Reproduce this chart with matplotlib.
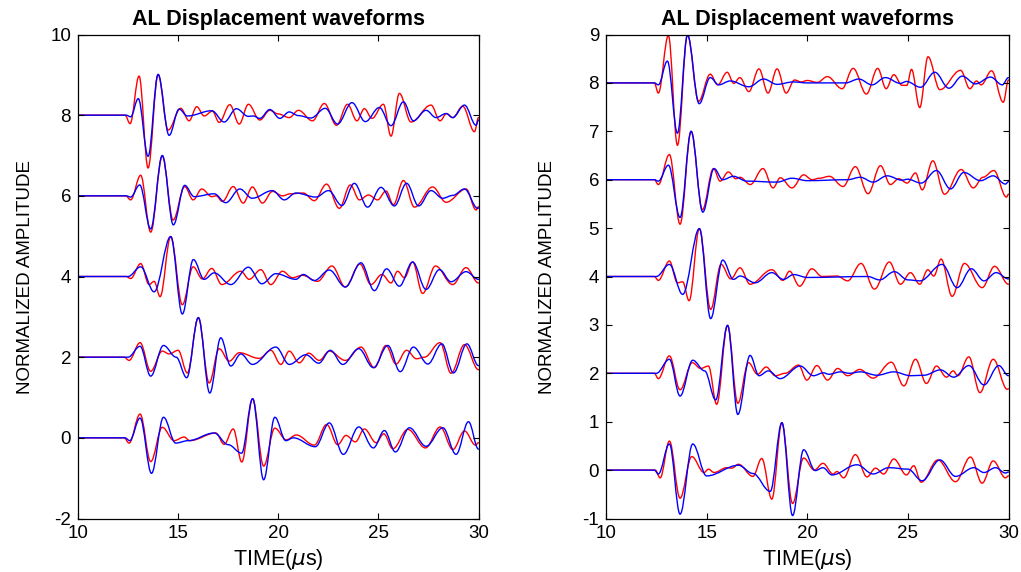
import matplotlib
matplotlib.use("Agg")
import matplotlib.pyplot as plt
from matplotlib import font_manager
from matplotlib.path import Path
from matplotlib.patches import PathPatch

plt.rcParams['font.family'] = ['Liberation Sans', 'DejaVu Sans']
plt.rcParams['axes.unicode_minus'] = False

# ---------------------------------------------------------------------------
# Waveform extrema: (time in microseconds, normalized amplitude about the
# trace baseline).  Each trace is drawn as a smooth curve through its peaks
# and troughs.
# ---------------------------------------------------------------------------
TRACE_OFFSETS = [8, 6, 4, 2, 0]

# ----- left panel -----
L8_RED = [(10, 0), (12.35, 0), (12.6, -0.21), (13.05, 0.97), (13.5, -1.31), (14.0, 1.01),
          (14.5, -0.37), (15.13, 0.17), (15.55, -0.14), (15.93, 0.21), (16.3, -0.02),
          (16.71, 0.1), (17.05, -0.18), (17.58, 0.26), (18.05, -0.22), (18.51, 0.27),
          (19.08, -0.12), (19.58, 0.12), (20.0, 0.03), (20.55, -0.06), (21.01, 0.12),
          (21.71, -0.14), (22.3, 0.29), (22.91, -0.25), (23.46, 0.27), (23.93, -0.14),
          (24.3, 0.16), (24.68, -0.08), (25.25, 0.27), (25.63, -0.52), (26.05, 0.54),
          (26.63, -0.17), (27.63, 0.25), (28.08, -0.14), (28.41, 0.04), (28.71, -0.06),
          (29.21, 0.22), (29.8, -0.41), (30.0, -0.06)]
L8_BLUE = [(10, 0), (12.4, 0), (12.63, -0.04), (13.01, 0.41), (13.5, -1.02), (14.0, 1.01),
           (14.55, -0.5), (15.05, 0.15), (15.46, -0.02), (16.68, 0.11), (17.3, -0.17),
           (17.91, 0.16), (18.5, -0.03), (18.75, -0.02), (19.08, -0.08), (19.58, 0.14),
           (20.08, -0.08), (20.55, 0.08), (21.0, -0.01), (21.63, -0.07), (22.35, 0.17),
           (22.96, -0.22), (23.68, 0.31), (24.35, -0.16), (25.05, 0.19), (25.63, -0.26),
           (26.25, 0.33), (26.75, -0.14), (27.38, 0.12), (27.88, -0.06), (28.38, 0.04),
           (28.71, -0.06), (29.3, 0.25), (29.88, -0.25), (30.0, -0.12)]

L6_RED = [(10, 0), (12.38, 0), (12.63, -0.1), (13.13, 0.51), (13.63, -0.9), (14.21, 0.99),
          (14.75, -0.6), (15.33, 0.23), (15.75, -0.1), (16.18, 0.17), (16.68, -0.02),
          (16.9, 0.0), (17.21, -0.14), (17.75, 0.23), (18.25, -0.18), (18.71, 0.22),
          (19.21, -0.18), (19.71, 0.11), (20.21, 0.0), (20.6, 0.05), (21.25, 0.07),
          (21.8, -0.12), (22.41, 0.29), (23.05, -0.31), (23.6, 0.27), (24.05, -0.1),
          (24.51, 0.02), (24.96, -0.1), (25.38, 0.12), (25.75, -0.22), (26.25, 0.38),
          (26.8, -0.28), (27.71, 0.22), (28.38, -0.16), (29.38, 0.17), (29.88, -0.35),
          (30.0, -0.27)]
L6_BLUE = [(10, 0), (12.4, 0), (12.63, -0.03), (13.08, 0.27), (13.63, -0.82), (14.21, 1.0),
           (14.76, -0.72), (15.33, 0.26), (15.8, -0.02), (16.8, 0.05), (17.38, -0.17),
           (18.08, 0.17), (18.7, -0.06), (19.71, 0.13), (20.3, -0.1), (20.88, 0.07),
           (21.88, -0.03), (22.51, 0.13), (23.18, -0.24), (23.8, 0.31), (24.46, -0.28),
           (25.13, 0.21), (25.8, -0.25), (26.41, 0.31), (27.01, -0.25), (27.63, 0.13),
           (28.21, -0.06), (28.71, 0.01), (29.3, 0.17), (29.96, -0.31), (30.0, -0.3)]

L4_RED = [(10, 0), (12.4, 0), (12.63, -0.05), (13.13, 0.32), (13.55, -0.2), (13.8, -0.12),
          (14.1, -0.5), (14.63, 0.99), (15.21, -0.7), (15.75, 0.24), (16.21, -0.06),
          (16.68, 0.2), (17.18, -0.2), (18.13, 0.13), (18.55, -0.07), (19.13, 0.17),
          (19.63, -0.2), (20.21, 0.13), (20.71, -0.03), (21.21, 0.03), (21.96, -0.12),
          (22.68, 0.26), (23.35, -0.26), (24.08, 0.31), (24.63, -0.2), (25.18, 0.05),
          (25.63, -0.16), (25.96, 0.13), (26.3, -0.03), (26.71, 0.36), (27.21, -0.42),
          (27.85, 0.26), (28.71, -0.2), (29.38, 0.22), (30.0, -0.16)]
L4_BLUE = [(10, 0), (12.5, 0), (13.13, 0.24), (13.8, -0.38), (14.63, 0.99), (15.21, -0.93),
           (15.76, 0.42), (16.3, -0.07), (16.8, 0.09), (17.63, -0.2), (18.51, 0.23),
           (19.18, -0.18), (19.88, 0.07), (20.88, -0.07), (21.25, 0.05), (21.8, -0.1),
           (22.55, 0.16), (23.35, -0.26), (24.13, 0.34), (24.8, -0.35), (25.41, 0.19),
           (26.05, -0.24), (26.71, 0.36), (27.38, -0.32), (28.05, 0.17), (28.63, -0.13),
           (29.38, 0.12), (30.0, -0.07)]

L2_RED = [(10, 0), (12.3, 0), (12.55, -0.08), (13.1, 0.36), (13.63, -0.35), (14.21, 0.15),
          (14.55, 0.08), (15.0, 0.17), (15.46, -0.39), (16.01, 0.98), (16.55, -0.64),
          (17.05, 0.21), (17.55, -0.1), (18.05, 0.11), (19.05, -0.03), (19.63, 0.17),
          (20.13, -0.18), (20.55, 0.15), (21.05, -0.14), (21.52, 0.1), (22.05, -0.08),
          (22.55, 0.15), (23.35, -0.08), (24.13, 0.25), (24.8, -0.26), (25.38, 0.29),
          (25.88, -0.17), (26.41, 0.17), (26.9, -0.04), (27.3, 0.0), (28.08, 0.36),
          (28.63, -0.4), (29.3, 0.31), (30.0, -0.31)]
L2_BLUE = [(10, 0), (12.5, 0), (13.1, 0.27), (13.63, -0.47), (14.27, 0.29), (14.9, 0.0),
           (15.43, -0.51), (16.01, 0.98), (16.58, -0.89), (17.13, 0.48), (17.63, -0.22),
           (18.13, 0.08), (18.71, -0.18), (19.88, 0.25), (20.55, -0.18), (21.38, 0.06),
           (22.02, -0.15), (22.6, 0.17), (23.22, -0.18), (24.02, 0.21), (24.75, -0.26),
           (25.47, 0.29), (26.09, -0.36), (26.75, 0.25), (27.47, -0.17), (28.17, 0.33),
           (28.75, -0.39), (29.42, 0.33), (30.0, -0.21)]

L0_RED = [(10, 0), (12.3, 0), (12.55, -0.13), (13.1, 0.59), (13.63, -0.59), (14.21, 0.26),
          (14.8, -0.07), (15.3, 0.02), (15.58, -0.07), (16.88, 0.12), (17.3, -0.16),
          (17.75, 0.22), (18.18, -0.6), (18.72, 0.97), (19.27, -0.7), (19.83, 0.24),
          (20.4, -0.05), (20.9, 0.07), (21.8, -0.18), (22.42, 0.33), (22.97, -0.17),
          (23.38, 0.06), (23.85, -0.1), (24.3, 0.22), (24.89, -0.12), (25.27, 0.1),
          (25.72, -0.27), (26.47, 0.21), (27.35, -0.25), (28.09, 0.27), (28.72, -0.29),
          (29.3, 0.17), (29.85, -0.18), (30.0, -0.12)]
L0_BLUE = [(10, 0), (12.35, 0), (12.58, -0.07), (13.1, 0.49), (13.67, -0.88), (14.27, 0.51),
           (14.88, -0.13), (15.5, -0.07), (16.8, 0.12), (17.5, -0.17), (18.17, -0.38),
           (18.72, 0.97), (19.27, -1.04), (19.83, 0.51), (20.38, -0.07), (20.75, 0.0),
           (21.85, -0.22), (22.55, 0.37), (23.25, -0.41), (24.02, 0.27), (24.75, -0.25),
           (25.3, 0.18), (25.85, -0.35), (26.55, 0.25), (27.38, -0.21), (28.22, 0.25),
           (28.88, -0.41), (29.5, 0.4), (30.0, -0.28)]

# ----- right panel -----
R8_RED = [(10, 0), (12.4, 0), (12.6, -0.21), (13.1, 0.98), (13.55, -1.29), (14.05, 0.99),
          (14.6, -0.38), (15.18, 0.18), (15.55, -0.04), (16.02, 0.22), (16.35, -0.01),
          (16.65, 0.11), (17.1, -0.18), (17.6, 0.29), (18.05, -0.21), (18.5, 0.29),
          (18.95, -0.21), (19.37, 0.06), (19.7, 0.02), (20.0, 0.05), (20.5, 0.01),
          (21.0, 0.13), (21.73, -0.12), (22.28, 0.3), (22.94, -0.23), (23.5, 0.3),
          (23.92, -0.12), (24.3, 0.17), (24.71, -0.05), (24.95, -0.05), (25.18, 0.28),
          (25.59, -0.51), (26.0, 0.54), (26.59, -0.14), (27.62, 0.26), (28.08, -0.12),
          (28.41, 0.04), (28.64, -0.04), (29.16, 0.25), (29.74, -0.4), (30.0, 0.06)]
R8_BLUE = [(10, 0), (12.4, 0), (12.6, -0.04), (13.05, 0.45), (13.55, -1.04), (14.05, 0.99),
           (14.63, -0.43), (15.18, 0.11), (15.6, -0.04), (16.17, 0.04), (17.1, -0.08),
           (17.83, 0.08), (18.5, -0.03), (19.3, 0.02), (20.0, 0.0), (21.9, 0.0),
           (22.56, 0.08), (23.22, -0.04), (23.88, 0.11), (24.63, -0.01), (24.93, 0.03),
           (25.63, -0.09), (26.34, 0.22), (27.04, -0.11), (27.7, 0.14), (28.36, -0.02),
           (29.11, 0.12), (29.69, -0.04), (30.0, 0.11)]

R6_RED = [(10, 0), (12.4, 0), (12.6, -0.1), (13.15, 0.52), (13.68, -0.92), (14.23, 1.0),
          (14.79, -0.62), (15.34, 0.23), (15.67, -0.03), (16.08, 0.16), (16.45, 0.02),
          (16.66, 0.05), (17.17, -0.1), (17.8, 0.23), (18.3, -0.17), (18.66, 0.04),
          (19.24, -0.17), (19.82, 0.1), (20.24, 0.0), (20.6, 0.03), (21.1, 0.07),
          (21.78, -0.14), (22.39, 0.27), (23.02, -0.29), (23.64, 0.29), (24.13, -0.1),
          (24.55, 0.02), (24.96, -0.07), (25.38, 0.14), (25.71, -0.21), (26.24, 0.39),
          (26.82, -0.3), (27.65, 0.21), (28.25, -0.17), (28.73, 0.05), (29.27, 0.19),
          (29.9, -0.36), (30.0, -0.3)]
R6_BLUE = [(10, 0), (12.4, 0), (12.6, -0.03), (13.1, 0.3), (13.68, -0.78), (14.23, 1.0),
           (14.81, -0.67), (15.37, 0.23), (15.8, 0.0), (16.33, 0.07), (17.0, -0.03),
           (18.5, -0.05), (19.24, 0.03), (20.0, -0.02), (22.0, 0.0), (22.64, 0.05),
           (23.27, -0.05), (23.97, 0.08), (24.71, -0.01), (24.99, 0.01), (25.66, -0.07),
           (26.42, 0.19), (27.12, -0.19), (27.78, 0.15), (28.61, -0.02), (29.24, 0.08),
           (29.85, -0.09), (30.0, -0.04)]

R4_RED = [(10, 0), (12.4, 0), (12.6, -0.08), (13.15, 0.32), (13.55, -0.13), (13.81, -0.11),
          (14.13, -0.5), (14.64, 0.99), (15.2, -0.68), (15.72, 0.25), (16.2, -0.05),
          (16.66, 0.18), (17.16, -0.16), (18.24, 0.14), (18.79, -0.08), (19.12, 0.11),
          (19.62, -0.2), (20.23, 0.16), (20.73, 0.0), (21.48, 0.01), (22.01, -0.09),
          (22.67, 0.27), (23.34, -0.26), (24.08, 0.3), (24.63, -0.16), (25.13, 0.08),
          (25.59, -0.16), (25.99, 0.14), (26.29, 0.01), (26.65, 0.36), (27.2, -0.41),
          (27.81, 0.27), (28.69, -0.23), (29.31, 0.21), (30.0, -0.16)]
R4_BLUE = [(10, 0), (12.5, 0), (13.15, 0.25), (13.81, -0.37), (14.64, 0.99), (15.2, -0.87),
           (15.8, 0.34), (16.33, -0.06), (16.66, 0.01), (17.41, -0.13), (18.24, 0.08),
           (18.82, -0.06), (19.32, 0.04), (20.0, -0.02), (23.0, 0.0), (23.6, -0.07),
           (24.33, 0.1), (25.0, -0.07), (25.6, -0.09), (26.7, 0.25), (27.45, -0.23),
           (28.15, 0.16), (28.78, -0.09), (29.39, 0.08), (30.0, -0.05)]

R2_RED = [(10, 0), (12.4, 0), (12.6, -0.11), (13.15, 0.36), (13.68, -0.34), (14.29, 0.22),
          (14.7, 0.1), (15.09, 0.15), (15.5, -0.64), (16.04, 0.99), (16.55, -0.62),
          (17.08, 0.22), (17.53, -0.02), (17.96, 0.13), (18.41, -0.05), (18.9, 0.0),
          (19.57, 0.17), (19.98, -0.14), (20.48, 0.16), (21.01, -0.14), (21.51, 0.1),
          (22.01, -0.05), (22.61, 0.08), (23.27, -0.1), (24.18, 0.23), (24.8, -0.26),
          (25.38, 0.29), (25.92, -0.21), (26.42, 0.15), (26.92, -0.08), (27.25, 0.05),
          (27.48, -0.05), (28.03, 0.34), (28.58, -0.4), (29.24, 0.29), (29.94, -0.33),
          (30.0, -0.32)]
R2_BLUE = [(10, 0), (12.5, 0), (13.15, 0.29), (13.68, -0.47), (14.31, 0.27), (14.9, 0.05),
           (15.45, -0.55), (16.04, 0.99), (16.55, -0.85), (17.16, 0.37), (17.6, -0.05),
           (18.07, 0.05), (18.65, -0.11), (19.65, 0.15), (20.31, -0.05), (20.8, 0.01),
           (21.07, -0.02), (21.65, 0.03), (22.1, 0.0), (22.64, 0.03), (23.47, -0.04),
           (24.3, 0.03), (25.13, -0.05), (25.8, -0.04), (26.62, 0.07), (27.28, -0.08),
           (28.03, 0.16), (28.78, -0.24), (29.52, 0.16), (30.0, -0.05)]

R0_RED = [(10, 0), (12.45, 0), (12.69, -0.16), (13.15, 0.6), (13.68, -0.58), (14.26, 0.28),
          (14.87, -0.05), (15.09, 0.02), (15.37, -0.05), (16.0, 0.05), (16.25, 0.04),
          (16.58, 0.12), (17.3, -0.13), (17.74, 0.24), (18.24, -0.6), (18.74, 0.98),
          (19.27, -0.69), (19.82, 0.25), (20.35, 0.0), (20.78, 0.14), (21.28, -0.08),
          (21.48, -0.03), (21.81, -0.16), (22.39, 0.32), (22.97, -0.14), (23.39, 0.04),
          (23.8, -0.08), (24.3, 0.23), (24.93, -0.1), (25.29, 0.09), (25.66, -0.25),
          (26.49, 0.21), (27.37, -0.24), (28.11, 0.27), (28.69, -0.27), (29.24, 0.19),
          (29.85, -0.16), (30.0, -0.12)]
R0_BLUE = [(10, 0), (12.4, 0), (12.6, -0.08), (13.15, 0.54), (13.68, -0.91), (14.31, 0.54),
           (15.0, -0.12), (16.58, 0.1), (17.3, -0.07), (18.16, -0.44), (18.74, 0.98),
           (19.27, -0.94), (19.82, 0.42), (20.4, -0.01), (20.78, 0.05), (21.23, -0.1),
           (22.47, 0.11), (23.27, -0.08), (24.05, 0.05), (25.0, 0.02), (25.71, -0.22),
           (26.59, 0.21), (27.37, -0.13), (28.28, 0.05), (28.78, -0.05), (29.36, 0.05),
           (29.85, -0.06), (30.0, -0.04)]

LEFT_RED = [L8_RED, L6_RED, L4_RED, L2_RED, L0_RED]
LEFT_BLUE = [L8_BLUE, L6_BLUE, L4_BLUE, L2_BLUE, L0_BLUE]
RIGHT_RED = [R8_RED, R6_RED, R4_RED, R2_RED, R0_RED]
RIGHT_BLUE = [R8_BLUE, R6_BLUE, R4_BLUE, R2_BLUE, R0_BLUE]

X_TICKS = [10, 15, 20, 25, 30]
LEFT_Y_TICKS = [-2, 0, 2, 4, 6, 8, 10]
RIGHT_Y_TICKS = [-1, 0, 1, 2, 3, 4, 5, 6, 7, 8, 9]

TITLE = "AL Displacement waveforms"
X_LABEL = r"TIME($\mu$s)"
Y_LABEL = "NORMALIZED AMPLITUDE"

RED = "#ff0000"
BLUE = "#0000ff"

# condensed face for the vertical axis label when one is installed
_installed = {f.name for f in font_manager.fontManager.ttflist}
if "Liberation Sans Narrow" in _installed:
    YLABEL_FONT = dict(family=["Liberation Sans Narrow", "DejaVu Sans"], size=16)
else:
    YLABEL_FONT = dict(family=["Liberation Sans", "DejaVu Sans"], size=13.5)

# smooth half-cycle between successive extrema (horizontal tangents)
K = 1.0 - 2.0 / 3.141592653589793


def waveform_patch(points, offset, color):
    verts = [(points[0][0], points[0][1] + offset)]
    codes = [Path.MOVETO]
    for (t0, a0), (t1, a1) in zip(points[:-1], points[1:]):
        dt = t1 - t0
        verts += [(t0 + K * dt, a0 + offset),
                  (t1 - K * dt, a1 + offset),
                  (t1, a1 + offset)]
        codes += [Path.CURVE4] * 3
    return PathPatch(Path(verts, codes), fill=False, edgecolor=color,
                     linewidth=1.0, joinstyle="round", capstyle="round")


def style_axes(ax, yticks, ylim, ylabelpad):
    ax.set_xlim(10, 30)
    ax.set_ylim(*ylim)
    ax.set_xticks(X_TICKS)
    ax.set_yticks(yticks)
    ax.tick_params(direction="in", top=True, right=True, length=4,
                   width=0.8, labelsize=13.5, pad=5)
    for s in ax.spines.values():
        s.set_linewidth(0.9)
    ax.set_title(TITLE, fontsize=15.5, fontweight="bold", pad=7)
    ax.set_xlabel(X_LABEL, fontsize=15.5, labelpad=3)
    ax.set_ylabel(Y_LABEL, labelpad=ylabelpad, **YLABEL_FONT)


fig = plt.figure(figsize=(10.21, 5.72), dpi=100)
ax_left = fig.add_axes([78 / 1021, 53.5 / 572, 400.5 / 1021, 484 / 572])
ax_right = fig.add_axes([606 / 1021, 53.5 / 572, 402.5 / 1021, 484 / 572])

for ax, reds, blues in ((ax_left, LEFT_RED, LEFT_BLUE), (ax_right, RIGHT_RED, RIGHT_BLUE)):
    for off, r, b in zip(TRACE_OFFSETS, reds, blues):
        ax.add_patch(waveform_patch(r, off, RED))
        ax.add_patch(waveform_patch(b, off, BLUE))

style_axes(ax_left, LEFT_Y_TICKS, (-2, 10), 12)
style_axes(ax_right, RIGHT_Y_TICKS, (-1, 9), 19)

fig.savefig("out.png", dpi=100)
